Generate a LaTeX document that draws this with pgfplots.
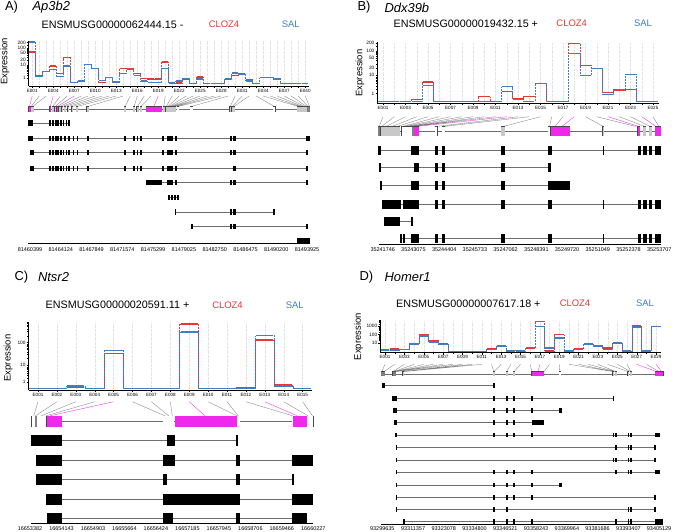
\documentclass[border=0pt]{standalone}
\usepackage{fontspec}
\setmainfont{Liberation Sans}
\usepackage{pgfplots}
\usepackage{pgfplotstable}
\pgfplotsset{compat=1.18}
\definecolor{cloz}{RGB}{230,55,55}
\definecolor{sal}{RGB}{62,126,196}
\definecolor{sig}{RGB}{240,40,236}
\definecolor{exg}{RGB}{200,200,200}
\definecolor{outl}{RGB}{70,70,70}
\definecolor{conn}{RGB}{130,130,130}
\definecolor{intr}{RGB}{110,110,110}
\newcommand\fs[1]{\fontsize{#1}{#1}\selectfont}
\pgfplotsset{
 exax/.style={scale only axis, anchor=south west, axis x line*=bottom, axis y line*=left,
   tick align=outside, major tick length=1.8bp, minor tick length=1.5bp,
   xmajorgrids, xminorgrids,
   major grid style={gray!22, line width=0.3bp, densely dotted},
   minor grid style={gray!22, line width=0.3bp, densely dotted},
   every tick/.style={black, line width=0.4bp}, axis line style={black, line width=0.5bp, -},
   xticklabel style={font=\fs{4.6}, inner sep=1bp},
   yticklabel style={font=\fs{4.8}, inner sep=1bp},
   y filter/.expression={ln(y+1)/ln(10)}},
 nomark/.style={only marks, mark=*, mark options={draw=none, fill=none, opacity=0}},
 seg/.style={nomark, error bars/.cd, x dir=both, x fixed=0.46, error mark=none,
   error bar style={draw=#1, solid, line width=1.3bp, opacity=1}},
 dot/.style={const plot mark mid, mark=none, color=#1, line width=0.7bp, dash pattern=on 0.7bp off 0.8bp},
 ebox/.style 2 args={nomark, error bars/.cd, x dir=both, x explicit, error mark=none,
   error bar style={draw=#1, solid, line width=#2bp, line cap=butt, opacity=1}},
 lnk/.style={mark=none, line width=0.35bp, unbounded coords=jump},
 intron/.style={mark=none, intr, line width=0.45bp, unbounded coords=jump},
}
% expression data: exon, CLOZ4, SAL
\pgfplotstableread{
e c s
1 60 218
2 2 1.5
3 4 4
4 8.9 5.5
5 2.8 1.5
6 28 8.8
7 0.15 0.15
8 0.4 0.4
9 11 11
10 6 6
11 0.15 0.55
12 1.2 1.2
13 0.25 0.25
14 6.3 2.6
15 6.3 5.5
16 2.6 1.9
17 0.9 0.4
18 0.8 0.15
19 0.8 0.15
20 15.6 6
21 0.1 0.1
22 0.1 0.4
23 0.8 1
24 0.05 0.05
25 1.4 0.8
26 0 0
27 0 0
28 0 0
29 0.8 1
30 1.8 3
31 2.6 2.2
32 0.7 0.4
33 0 0
34 1.2 1.2
35 1.2 1.2
36 0.9 0.8
37 0 0
38 0 0
39 0 0
40 0 0
}\exA
\pgfplotstableread{
e c s
1 0 0
2 0 0
3 0 0
4 0.2 0
5 4.8 3.3
6 0 0
7 0 0
8 0 0
9 0 0
10 0.5 0
11 0 0
12 1.4 2.8
13 0.3 0.2
14 0.5 0
15 4.0 4.2
16 0 0
17 0 0
18 200 79
19 26 9.8
20 19.4 19.4
21 1.2 0.8
22 1.6 2.0
23 2.0 10.8
24 0 0
25 0 0
}\exB
\pgfplotstableread{
e c s
1 0.05 0.05
2 0.05 0.05
3 0.2 0.35
4 0.05 0.05
5 34 45
6 0.05 0.05
7 0.05 0.05
8 0.05 0.05
9 650 294
10 0.05 0.05
11 0.05 0.05
12 0.2 0.05
13 131 203
14 0.5 0.35
15 0.05 0.05
}\exC
\pgfplotstableread{
e c s
1 0.8 0.35
2 0.9 0.35
3 0.8 0.8
4 8.2 6.6
5 97 67
6 18 12
7 7.3 5.3
8 0 0
9 0 0
10 0 0
11 0 0
12 1.1 0.6
13 3.1 3.4
14 0.1 0.1
15 0.3 0.15
16 1.5 1.7
17 3800 980
18 0.1 1.5
19 97 39
20 0.1 0.1
21 0.9 0.8
22 5.3 6.6
23 4.3 3.4
24 1.6 0.6
25 8.2 9
26 0.1 0.1
27 1050 800
28 0.1 0.1
29 980 980
}\exD
% transcript exons: left edge, row, width (reference pixels)
\pgfplotstableread{
a y w
28.3 123 2.2
30.8 123 2.5
49.3 123 1.4
51.7 123 1.6
55 123 1.7
57.3 123 1.7
60 123 1.7
62.7 123 1.3
65.7 123 1.0
68.3 123 1.0
28.3 138.3 2.2
30.8 138.3 2.5
49.3 138.3 1.4
51.7 138.3 1.6
55 138.3 1.7
57.3 138.3 1.7
60 138.3 1.7
64.3 138.3 1.4
68.3 138.3 1
72.7 138.3 1.3
76.7 138.3 1.3
87.3 138.3 1.7
124 138.3 1.7
133.3 138.3 1.7
136.7 138.3 1.3
140 138.3 1.7
162.3 138.3 1.4
166.7 138.3 6.6
175 138.3 1.7
230 138.3 1.7
233.3 138.3 2.4
306 138.3 4
30 152.3 1.2
31.8 152.3 1.5
49.3 152.3 1.4
51.7 152.3 1.6
55 152.3 1.7
57.3 152.3 1.7
60 152.3 1.7
62.7 152.3 1.3
65.7 152.3 1
68.3 152.3 1
72.7 152.3 1.3
76.7 152.3 1.3
87.3 152.3 1.7
124 152.3 1.7
133.3 152.3 1.7
136.7 152.3 1.3
140 152.3 1.7
162.3 152.3 1.4
166.7 152.3 6.6
175 152.3 1.7
230 152.3 1.7
233.3 152.3 2.4
306 152.3 1.7
30 168.3 1.2
31.8 168.3 1.5
49.3 168.3 1.4
51.7 168.3 1.6
55 168.3 1.7
57.3 168.3 1.7
60 168.3 1.7
62.7 168.3 1.3
65.7 168.3 1
68.3 168.3 1
72.7 168.3 1.3
76.7 168.3 1.3
87.3 168.3 1.7
124 168.3 1.7
133.3 168.3 1.7
136.7 168.3 1.3
140 168.3 1.7
162.3 168.3 1.4
166.7 168.3 6.6
175 168.3 1.7
233.3 168.3 2.4
306 168.3 1.7
145.7 182.7 16.6
166.7 182.7 6.6
175 182.7 1.7
230 182.7 1.7
233.3 182.7 2.4
306 182.7 2.3
168.3 197.3 1.7
170.7 197.3 2
174 197.3 1.7
177.3 197.3 2
175 212 0.7
230 212 1.7
233.3 212 2.4
273.3 212 2
190.7 226.7 2.6
230 226.7 1.7
233.3 226.7 2.4
306 226.7 2.3
297.3 241 12.7
}\trA
\pgfplotstableread{
a y w
378.3 150 2.4
411 150 8
435 150 3.3
442.3 150 2.7
501 150 4
548.3 150 3.4
602.7 150 1.3
637.7 150 3.3
643.3 150 3.4
649 150 3.3
655 150 5.7
379.3 167.7 1.4
414 167.7 5
435 167.7 2.7
442.3 167.7 2.7
501 167.7 4
548.3 167.7 2.4
380 185.7 1
411 185.7 8
435 185.7 2.7
442.3 185.7 2.7
501 185.7 4
548.3 185.7 21.7
381.7 204 19
402.7 204 16.3
435 204 2.7
442.3 204 2.7
501 204 4
548.3 204 3.4
602.7 204 1.3
637.7 204 3.3
643.3 204 3.4
649 204 3.3
655 204 5.7
384.3 221.7 15.7
411 221.7 2.3
400 238.3 1.7
402.7 238.3 1.6
411 238.3 8
435 238.3 2.7
442.3 238.3 2.7
501 238.3 4
548.3 238.3 3.4
602.7 238.3 1.3
637.7 238.3 3.3
643.3 238.3 3.4
649 238.3 3.3
655 238.3 5.7
}\trB
\pgfplotstableread{
a y w
31 440.7 30.7
167.3 440.7 7.7
236 440.7 2
35.7 460 26
163.3 460 11.7
236 460 4
291.7 460 21.6
36 479.3 25.7
163.3 479.3 4
236 479.3 4
291.7 479.3 1.6
46 499 15.7
163.3 499 76.7
291.7 499 21.6
46.7 518.3 15
163.3 518.3 9.4
236 518.3 4
291.7 518.3 15
}\trC
\pgfplotstableread{
a y w
381.7 385.7 1
383.3 385.7 1.7
493.3 385.7 1
392.3 398.3 4.4
493.3 398.3 1
506 398.3 1.3
513.3 398.3 1.4
531 398.3 1.3
612.7 398.3 1.3
393.3 410.7 3.4
493.3 410.7 1
506 410.7 1.3
513.3 410.7 1.4
531 410.7 1.3
559 410.7 2.7
394.3 422.7 2.4
493.3 422.7 1
506 422.7 1.3
513.3 422.7 1.4
531.7 422.7 12.3
395 435 1.7
493.3 435 1
506 435 1.3
513.3 435 1.4
531 435 1.3
612.7 435 1.3
615 435 1
627.7 435 1
630 435 1
655 435 5
395.7 447.3 1
615.3 447.3 1
627.7 447.3 1
630 447.3 1
654.3 447.3 1.4
395.7 460 1
612.7 460 1.3
615 460 1
627.7 460 1
630 460 1
654.3 460 1.4
395.7 472 1
493.3 472 1
506 472 1.3
513.3 472 1.4
531 472 1.3
615.3 472 1
627.7 472 1
630 472 1
655 472 5
395.7 485 1
493.3 485 1
506 485 1.3
513.3 485 1.4
531 485 1.3
559 485 2.7
395.7 497.3 1
493.3 497.3 1
506 497.3 1.3
513.3 497.3 1.4
531 497.3 1.3
654.3 497.3 1.4
395.7 509.3 1
493.3 509.3 1
506 509.3 1.3
627.7 509.3 1
630 509.3 1
654.3 509.3 1.4
403.3 521.7 1
493.3 521.7 1
506 521.7 1.3
513.3 521.7 1.4
531 521.7 1.3
615.3 521.7 1
627.7 521.7 1
630 521.7 1
655 521.7 8.3
}\trD
% gene-model exon bins: left edge, width
\pgfplotstableread{
a w
30.5 3.0
52 1.5
54.5 1.5
59 1.5
61.5 1.5
64 1.5
67.5 1.5
71.5 1.5
76 2
86.7 1.8
124.3 1.7
133.3 1.7
136.7 1.6
140 1.7
163 1.5
165.5 1.5
167 1.5
168.5 1.5
170 1.5
171.5 1.5
173 1.5
174.5 1.5
229.5 1.5
231.5 1.5
233 1.7
297.3 10
}\gAgray
\pgfplotstableread{
a w
177 2
190 2.5
273.3 2
}\gAwhite
\pgfplotstableread{
a w
307.3 2.7
}\gAdark
\pgfplotstableread{
a w
28.5 2
49.5 1.5
56.5 1.8
146 15.7
}\gAsig
\pgfplotstableread{
a w
380.7 2
383.3 16.7
501 4
602.7 1.3
643.3 2.7
649 2.7
}\gBgray
\pgfplotstableread{
a w
378.3 1.7
411.7 2.3
}\gBdark
\pgfplotstableread{
a w
401.7 1.6
403.3 8.4
435 2.3
442.3 2.7
548.3 2.4
}\gBwhite
\pgfplotstableread{
a w
414 5
550.7 19.3
637.7 2.3
655 5.7
}\gBsig
\pgfplotstableread{
a w
31.7 4
36 10.7
163.3 3.4
166.7 4
170.7 3.3
236.7 3.3
292 1.3
306.7 6.6
}\gCwhite
\pgfplotstableread{
a w
35 1
}\gCdark
\pgfplotstableread{
a w
46.7 15
175 61.7
293.3 13.4
}\gCsig
\pgfplotstableread{
a w
381 1.7
383.3 1.7
392.7 3.3
}\gDdark
\pgfplotstableread{
a w
402.7 1.3
493.3 1
506 1.3
513.3 1.4
612.7 1.3
615 1
627.7 1
630 1
}\gDgray
\pgfplotstableread{
a w
559 1.7
}\gDwhite
\pgfplotstableread{
a w
531.7 12.3
655 8.3
}\gDsig
% draws outlined gene-model boxes: #1 table, #2 fill colour, #3 row y, #4 height
\newcommand\gbox[4]{%
 \addplot[ebox={outl}{#4+0.7}] table[x expr=\thisrow{a}+0.5*\thisrow{w}, y expr=#3, x error expr=0.5*\thisrow{w}+0.35] {#1};
 \addplot[ebox={#2}{#4}] table[x expr=\thisrow{a}+0.5*\thisrow{w}, y expr=#3, x error expr=0.5*\thisrow{w}] {#1};}
\newcommand\tbox[2]{%
 \addplot[ebox={black}{#2}] table[x expr=\thisrow{a}+0.5*\thisrow{w}, y=y, x error expr=0.5*\thisrow{w}] {#1};}
\begin{document}
\begin{tikzpicture}
\useasboundingbox (0,0) rectangle (677bp,-532bp);
\begin{axis}[at={(0bp,0bp)}, anchor=north west, scale only axis, width=677bp, height=532bp,
  xmin=0, xmax=677, ymin=0, ymax=532, y dir=reverse, hide axis, clip=false]
% ---------- Panel A ----------
\addplot[intron] coordinates {(28.5,109.3)(310,109.3)(0,nan)(28.3,123)(68.3,123)(0,nan)(28.3,138.3)(310,138.3)(0,nan)(30,152.3)(307.7,152.3)(0,nan)(30,168.3)(307.7,168.3)(0,nan)(145.7,182.7)(308.3,182.7)(0,nan)(168.3,197.3)(179.3,197.3)(0,nan)(175,212)(275.3,212)(0,nan)(190.7,226.7)(308.3,226.7)};
\addplot[black, line width=0.7bp] coordinates {(28.3,243.3)(310,243.3)};
\addplot[conn, lnk] coordinates {(39.2,96)(31.2,106.5)(0,nan)(46.2,96)(32.8,106.5)(0,nan)(60.2,96)(52.75,106.5)(0,nan)(67.2,96)(55.25,106.5)(0,nan)(81.2,96)(59.75,106.5)(0,nan)(88.2,96)(62.25,106.5)(0,nan)(95.2,96)(64.75,106.5)(0,nan)(102.2,96)(68.25,106.5)(0,nan)(109.2,96)(72.25,106.5)(0,nan)(116.2,96)(77,106.5)(0,nan)(123.2,96)(87.6,106.5)(0,nan)(130.2,96)(125.15,106.5)(0,nan)(137.2,96)(134.15,106.5)(0,nan)(144.2,96)(137.5,106.5)(0,nan)(151.2,96)(140.85,106.5)(0,nan)(165.2,96)(163.75,106.5)(0,nan)(172.2,96)(166.25,106.5)(0,nan)(179.2,96)(167.75,106.5)(0,nan)(186.2,96)(169.25,106.5)(0,nan)(193.2,96)(170.75,106.5)(0,nan)(200.2,96)(172.25,106.5)(0,nan)(207.2,96)(173.75,106.5)(0,nan)(214.2,96)(175.25,106.5)(0,nan)(221.2,96)(178,106.5)(0,nan)(228.2,96)(191.25,106.5)(0,nan)(235.2,96)(230.25,106.5)(0,nan)(242.2,96)(232.25,106.5)(0,nan)(249.2,96)(233.85,106.5)(0,nan)(256.2,96)(274.3,106.5)(0,nan)(263.2,96)(298.5,106.5)(0,nan)(270.2,96)(300.5,106.5)(0,nan)(277.2,96)(302.5,106.5)(0,nan)(284.2,96)(304.5,106.5)(0,nan)(291.2,96)(306.5,106.5)(0,nan)(298.2,96)(308,106.5)(0,nan)(305.2,96)(309.5,106.5)};
\addplot[sig, lnk] coordinates {(32.2,96)(29.5,106.5)(0,nan)(53.2,96)(50.25,106.5)(0,nan)(74.2,96)(57.4,106.5)(0,nan)(158.2,96)(153.85,106.5)};
\gbox{\gAgray}{exg}{109.3}{5.3}
\gbox{\gAwhite}{white}{109.3}{5.3}
\gbox{\gAdark}{gray}{109.3}{5.3}
\gbox{\gAsig}{sig}{109.3}{5.3}
\tbox{\trA}{5.5}
% ---------- Panel B ----------
\addplot[intron] coordinates {(378.3,131.3)(660.7,131.3)(0,nan)(378.3,150)(660.7,150)(0,nan)(379.3,167.7)(550.7,167.7)(0,nan)(380,185.7)(570,185.7)(0,nan)(381.7,204)(660.7,204)(0,nan)(400,221.7)(413.3,221.7)(0,nan)(400,238.3)(660.7,238.3)};
\addplot[black, line width=0.7bp] coordinates {(379,244)(660.7,244)};
\addplot[conn, lnk] coordinates {(383,116.7)(379.2,126.5)(0,nan)(394.25,116.7)(381.7,126.5)(0,nan)(405.5,116.7)(386,126.5)(0,nan)(416.75,116.7)(391.7,126.5)(0,nan)(428,116.7)(397,126.5)(0,nan)(439.25,116.7)(402.5,126.5)(0,nan)(450.5,116.7)(405,126.5)(0,nan)(461.75,116.7)(408,126.5)(0,nan)(473,116.7)(410.5,126.5)(0,nan)(484.25,116.7)(412.8,126.5)(0,nan)(495.5,116.7)(414,126.5)(0,nan)(518,116.7)(436.2,126.5)(0,nan)(529.25,116.7)(443.7,126.5)(0,nan)(540.5,116.7)(503,126.5)(0,nan)(551.75,116.7)(549.5,126.5)(0,nan)(563,116.7)(555,126.5)(0,nan)(585.5,116.7)(603.3,126.5)(0,nan)(596.75,116.7)(636,126.5)(0,nan)(619.25,116.7)(644.7,126.5)(0,nan)(630.5,116.7)(650.3,126.5)(0,nan)(653,116.7)(659,126.5)};
\addplot[sig, lnk] coordinates {(506.75,116.7)(416.5,126.5)(0,nan)(574.25,116.7)(562,126.5)(0,nan)(608,116.7)(638.8,126.5)(0,nan)(641.75,116.7)(656,126.5)};
\gbox{\gBgray}{exg}{131.3}{9.3}
\gbox{\gBdark}{gray}{131.3}{9.3}
\gbox{\gBwhite}{white}{131.3}{9.3}
\gbox{\gBsig}{sig}{131.3}{9.3}
\tbox{\trB}{9}
% ---------- Panel C ----------
\addplot[intron] coordinates {(31.7,421.3)(313.3,421.3)(0,nan)(31,440.7)(238,440.7)(0,nan)(35.7,460)(313.3,460)(0,nan)(36,479.3)(293.3,479.3)(0,nan)(46,499)(313.3,499)(0,nan)(46.7,518.3)(306.7,518.3)};
\addplot[black, line width=0.7bp] coordinates {(31,523.3)(313.3,523.3)};
\addplot[conn, lnk] coordinates {(38,401.7)(33.7,415.8)(0,nan)(56.9,401.7)(35.5,415.8)(0,nan)(75.8,401.7)(41.3,415.8)(0,nan)(94.7,401.7)(46.2,415.8)(0,nan)(132.5,401.7)(165,415.8)(0,nan)(151.4,401.7)(168.7,415.8)(0,nan)(170.3,401.7)(172.3,415.8)(0,nan)(208.1,401.7)(237,415.8)(0,nan)(227,401.7)(238.3,415.8)(0,nan)(245.9,401.7)(292.6,415.8)(0,nan)(283.7,401.7)(308,415.8)(0,nan)(302.6,401.7)(312.5,415.8)};
\addplot[sig, lnk] coordinates {(113.6,401.7)(50,415.8)(0,nan)(189.2,401.7)(205,415.8)(0,nan)(264.8,401.7)(297,415.8)};
\gbox{\gCwhite}{white}{421.3}{10.7}
\gbox{\gCdark}{gray}{421.3}{10.7}
\gbox{\gCsig}{sig}{421.3}{10.7}
\tbox{\trC}{11}
% ---------- Panel D ----------
\addplot[intron] coordinates {(381,373.8)(663.3,373.8)(0,nan)(381.7,385.7)(494.3,385.7)(0,nan)(392.3,398.3)(614,398.3)(0,nan)(393.3,410.7)(561.7,410.7)(0,nan)(394.3,422.7)(544,422.7)(0,nan)(395,435)(660,435)(0,nan)(395.7,447.3)(655.7,447.3)(0,nan)(395.7,460)(655.7,460)(0,nan)(395.7,472)(660,472)(0,nan)(395.7,485)(561.7,485)(0,nan)(395.7,497.3)(655.7,497.3)(0,nan)(395.7,509.3)(655.7,509.3)(0,nan)(403.3,521.7)(655,521.7)};
\addplot[black, line width=0.7bp] coordinates {(381,524)(663.3,524)};
\addplot[conn, lnk] coordinates {(385,364.3)(381.8,371.6)(0,nan)(394.68,364.3)(384.2,371.6)(0,nan)(404.36,364.3)(393,371.6)(0,nan)(414.04,364.3)(393.8,371.6)(0,nan)(423.72,364.3)(394.6,371.6)(0,nan)(433.4,364.3)(395.4,371.6)(0,nan)(443.08,364.3)(396.2,371.6)(0,nan)(452.76,364.3)(397,371.6)(0,nan)(462.44,364.3)(403,371.6)(0,nan)(472.12,364.3)(403.5,371.6)(0,nan)(481.8,364.3)(404,371.6)(0,nan)(491.48,364.3)(493.8,371.6)(0,nan)(501.16,364.3)(494,371.6)(0,nan)(510.84,364.3)(506.7,371.6)(0,nan)(520.52,364.3)(514,371.6)(0,nan)(530.2,364.3)(531.8,371.6)(0,nan)(549.56,364.3)(544,371.6)(0,nan)(559.24,364.3)(559.8,371.6)(0,nan)(568.92,364.3)(613,371.6)(0,nan)(578.6,364.3)(613.5,371.6)(0,nan)(588.28,364.3)(615.5,371.6)(0,nan)(597.96,364.3)(616,371.6)(0,nan)(607.64,364.3)(628.2,371.6)(0,nan)(617.32,364.3)(630.5,371.6)(0,nan)(627,364.3)(631,371.6)(0,nan)(646.36,364.3)(659,371.6)};
\addplot[sig, lnk] coordinates {(539.88,364.3)(538,371.6)(0,nan)(636.68,364.3)(656.5,371.6)(0,nan)(656.04,364.3)(661.5,371.6)};
\gbox{\gDdark}{gray}{373.8}{4.5}
\gbox{\gDgray}{exg}{373.8}{4.5}
\gbox{\gDwhite}{white}{373.8}{4.5}
\gbox{\gDsig}{sig}{373.8}{4.5}
\tbox{\trD}{4.8}
% ---------- texts ----------
\node[font=\fs{13}, anchor=west] at (axis cs:1.5,7.5) {A)};
\node[font=\fs{13}\itshape, anchor=west] at (axis cs:29,7.5) {Ap3b2};
\node[font=\fs{13}, anchor=west] at (axis cs:354,7.5) {B)};
\node[font=\fs{13}\itshape, anchor=west] at (axis cs:381,7.5) {Ddx39b};
\node[font=\fs{13}, anchor=west] at (axis cs:11,277.5) {C)};
\node[font=\fs{13}\itshape, anchor=west] at (axis cs:34.5,277.5) {Ntsr2};
\node[font=\fs{13}, anchor=west] at (axis cs:356,277.5) {D)};
\node[font=\fs{13}\itshape, anchor=west] at (axis cs:381,277.5) {Homer1};
\node[font=\fs{10.8}] at (axis cs:112.5,24.5) {ENSMUSG00000062444.15 -};
\node[font=\fs{9.5}, text=cloz] at (axis cs:224,24.5) {CLOZ4};
\node[font=\fs{9.5}, text=sal] at (axis cs:290.8,24.5) {SAL};
\node[font=\fs{10.8}] at (axis cs:465.8,23.3) {ENSMUSG00000019432.15 +};
\node[font=\fs{9.5}, text=cloz] at (axis cs:571.7,23.3) {CLOZ4};
\node[font=\fs{9.5}, text=sal] at (axis cs:643,23.3) {SAL};
\node[font=\fs{10.8}] at (axis cs:117.5,305) {ENSMUSG00000020591.11 +};
\node[font=\fs{9.5}, text=cloz] at (axis cs:227.5,305) {CLOZ4};
\node[font=\fs{9.5}, text=sal] at (axis cs:294.7,305) {SAL};
\node[font=\fs{10.8}] at (axis cs:468.3,303.3) {ENSMUSG00000007617.18 +};
\node[font=\fs{9.5}, text=cloz] at (axis cs:575,303.3) {CLOZ4};
\node[font=\fs{9.5}, text=sal] at (axis cs:645,303.3) {SAL};
\node[font=\fs{9.5}, rotate=90] at (axis cs:5,61.5) {Expression};
\node[font=\fs{9.5}, rotate=90] at (axis cs:360,73) {Expression};
\node[font=\fs{9.5}, rotate=90] at (axis cs:8.3,358) {Expression};
\node[font=\fs{9.5}, rotate=90] at (axis cs:358.3,336.7) {Expression};
% genomic coordinates
\node[font=\fs{5.5}] at (axis cs:30,249.5) {81460399};
\node[font=\fs{5.5}] at (axis cs:60.8,249.5) {81464124};
\node[font=\fs{5.5}] at (axis cs:91.6,249.5) {81467849};
\node[font=\fs{5.5}] at (axis cs:122.3,249.5) {81471574};
\node[font=\fs{5.5}] at (axis cs:153.1,249.5) {81475299};
\node[font=\fs{5.5}] at (axis cs:183.9,249.5) {81479025};
\node[font=\fs{5.5}] at (axis cs:214.7,249.5) {81482750};
\node[font=\fs{5.5}] at (axis cs:245.5,249.5) {81486475};
\node[font=\fs{5.5}] at (axis cs:276.2,249.5) {81490200};
\node[font=\fs{5.5}] at (axis cs:307,249.5) {81493925};
\node[font=\fs{5.5}] at (axis cs:382.7,249.3) {35241746};
\node[font=\fs{5.5}] at (axis cs:413.4,249.3) {35243075};
\node[font=\fs{5.5}] at (axis cs:444.2,249.3) {35244404};
\node[font=\fs{5.5}] at (axis cs:474.9,249.3) {35245733};
\node[font=\fs{5.5}] at (axis cs:505.6,249.3) {35247062};
\node[font=\fs{5.5}] at (axis cs:536.4,249.3) {35248391};
\node[font=\fs{5.5}] at (axis cs:567.1,249.3) {35249720};
\node[font=\fs{5.5}] at (axis cs:597.8,249.3) {35251049};
\node[font=\fs{5.5}] at (axis cs:628.5,249.3) {35252378};
\node[font=\fs{5.5}] at (axis cs:659.3,249.3) {35253707};
\node[font=\fs{5.5}] at (axis cs:30,528.5) {16653382};
\node[font=\fs{5.5}] at (axis cs:61.5,528.5) {16654143};
\node[font=\fs{5.5}] at (axis cs:93,528.5) {16654903};
\node[font=\fs{5.5}] at (axis cs:124.4,528.5) {16655664};
\node[font=\fs{5.5}] at (axis cs:155.9,528.5) {16656424};
\node[font=\fs{5.5}] at (axis cs:187.4,528.5) {16657185};
\node[font=\fs{5.5}] at (axis cs:218.9,528.5) {16657945};
\node[font=\fs{5.5}] at (axis cs:250.4,528.5) {16658706};
\node[font=\fs{5.5}] at (axis cs:281.8,528.5) {16659466};
\node[font=\fs{5.5}] at (axis cs:313.3,528.5) {16660227};
\node[font=\fs{5.5}] at (axis cs:382.3,529) {93299635};
\node[font=\fs{5.5}] at (axis cs:413.1,529) {93311357};
\node[font=\fs{5.5}] at (axis cs:443.8,529) {93323078};
\node[font=\fs{5.5}] at (axis cs:474.6,529) {93334800};
\node[font=\fs{5.5}] at (axis cs:505.3,529) {93346521};
\node[font=\fs{5.5}] at (axis cs:536.1,529) {93358243};
\node[font=\fs{5.5}] at (axis cs:566.9,529) {93369964};
\node[font=\fs{5.5}] at (axis cs:597.6,529) {93381686};
\node[font=\fs{5.5}] at (axis cs:628.4,529) {93393407};
\node[font=\fs{5.5}] at (axis cs:659.1,529) {93405129};
\end{axis}
% ---------- expression A ----------
\begin{axis}[exax, at={(28.7bp,-86bp)}, width=280bp, height=45.4bp,
  xmin=0.5, xmax=40.5, ymin=-0.13, ymax=2.42,
  xtick={1,4,...,40}, minor xtick={1,...,40},
  xticklabels={E001,E004,E007,E010,E013,E016,E019,E022,E025,E028,E031,E034,E037,E040},
  ytick={0.30103,1.04139,1.32222,1.70757,2.00432,2.30320}, yticklabels={1,10,20,50,100,200},
  minor ytick={0.4771,0.6021,0.6990,0.7782,0.8451,0.9031,0.9542,1.4914,1.6128,1.7853,1.8513,1.9085,1.9590,2.1790}]
\addplot[dot=cloz] table[x=e,y=c] {\exA};
\addplot[dot=sal] table[x=e,y=s] {\exA};
\addplot[seg=cloz] table[x=e,y=c] {\exA};
\addplot[seg=sal] table[x=e,y=s] {\exA};
\end{axis}
% ---------- expression B ----------
\begin{axis}[exax, at={(377.4bp,-103bp)}, width=281.2bp, height=60.9bp,
  xmin=0.5, xmax=25.5, ymin=-0.07, ymax=2.35,
  xtick={1,3,...,25}, minor xtick={1,...,25},
  xticklabels={E001,E003,E005,E007,E009,E011,E013,E015,E017,E019,E021,E023,E025},
  ytick={0.30103,1.04139,1.32222,1.70757,2.00432,2.30320}, yticklabels={1,10,20,50,100,200},
  minor ytick={0.4771,0.6021,0.6990,0.7782,0.8451,0.9031,0.9542,1.4914,1.6128,1.7853,1.8513,1.9085,1.9590,2.1790}]
\addplot[dot=cloz] table[x=e,y=c] {\exB};
\addplot[dot=sal] table[x=e,y=s] {\exB};
\addplot[seg=cloz] table[x=e,y=c] {\exB};
\addplot[seg=sal] table[x=e,y=s] {\exB};
\end{axis}
% ---------- expression C ----------
\begin{axis}[exax, at={(28.55bp,-390bp)}, width=283.5bp, height=68.3bp,
  xmin=0.5, xmax=15.5, ymin=-0.04, ymax=2.91,
  xtick={1,...,15}, minor xtick={1,...,15},
  xticklabels={E001,E002,E003,E004,E005,E006,E007,E008,E009,E010,E011,E012,E013,E014,E015},
  ytick={0.30103,1.04139,2.00432}, yticklabels={1,10,100},
  minor ytick={0.4771,0.6021,0.6990,0.7782,0.8451,0.9031,0.9542,1.3222,1.4914,1.6128,1.7076,1.7853,1.8513,1.9085,1.9590,2.3032,2.4786,2.6031,2.6998,2.7789,2.8457,2.9036}]
\addplot[dot=cloz] table[x=e,y=c] {\exC};
\addplot[dot=sal] table[x=e,y=s] {\exC};
\addplot[seg=cloz] table[x=e,y=c] {\exC};
\addplot[seg=sal] table[x=e,y=s] {\exC};
\end{axis}
% ---------- expression D ----------
\begin{axis}[exax, at={(380.2bp,-352.7bp)}, width=280.7bp, height=32.3bp,
  xmin=0.5, xmax=29.5, ymin=-0.15, ymax=3.7,
  xtick={1,3,...,29}, minor xtick={1,...,29},
  xticklabels={E001,E003,E005,E007,E009,E011,E013,E015,E017,E019,E021,E023,E025,E027,E029},
  ytick={1.04139,2.00432,3.00043}, yticklabels={10,100,1000},
  minor ytick={1.3222,1.4914,1.6128,1.7076,1.7853,1.8513,1.9085,1.9590,2.3032,2.4786,2.6031,2.6998,2.7789,2.8457,2.9036,2.9547,3.3012,3.4773,3.6022,3.6990}]
\addplot[dot=cloz] table[x=e,y=c] {\exD};
\addplot[dot=sal] table[x=e,y=s] {\exD};
\addplot[seg=cloz] table[x=e,y=c] {\exD};
\addplot[seg=sal] table[x=e,y=s] {\exD};
\end{axis}
\end{tikzpicture}
\end{document}
